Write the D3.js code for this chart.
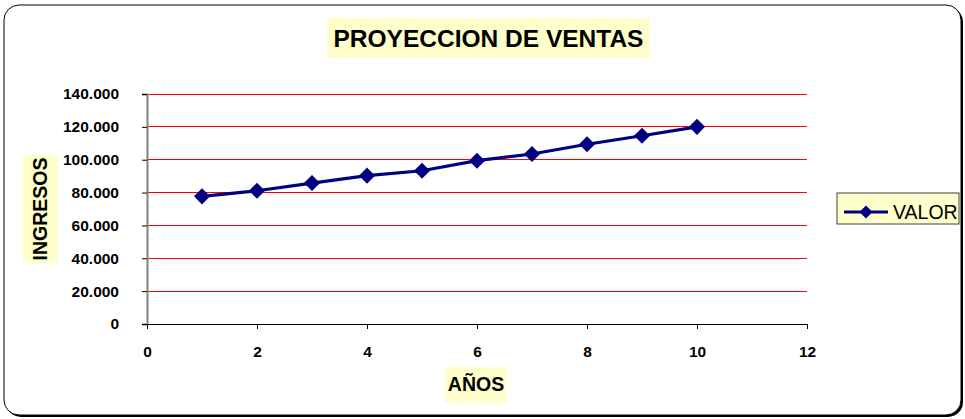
<!DOCTYPE html>
<html><head><meta charset="utf-8">
<script src="https://cdn.jsdelivr.net/npm/d3@7/dist/d3.min.js"></script>
<style>body{margin:0;background:#fff}svg{display:block}text{font-family:"Liberation Sans",Arial,sans-serif}</style>
</head><body><svg id="c" width="965" height="419"></svg>
<script>
const years = [1,2,3,4,5,6,7,8,9,10];
const valores = [77700,81100,85800,90300,93300,99400,103500,109400,114600,120000];
const xTicks = [0,2,4,6,8,10,12];
const yTicks = [0,20000,40000,60000,80000,100000,120000,140000];
const title = "PROYECCION DE VENTAS";
const xTitle = "AÑOS";
const yTitle = "INGRESOS";
const seriesName = "VALOR";

const svg = d3.select("#c");
const navy = "#000080";
// outer frame with shadow
svg.append("rect").attr("x",6).attr("y",7).attr("width",957).attr("height",410).attr("rx",15).attr("fill","#000");
svg.append("rect").attr("x",4).attr("y",5).attr("width",957).attr("height",410).attr("rx",15).attr("fill","#fff").attr("stroke","#000").attr("stroke-width",1);

const x = d3.scaleLinear().domain([0,12]).range([147,807]);
const y = d3.scaleLinear().domain([0,140000]).range([324,94]);

// grid
svg.append("g").selectAll("line").data(yTicks.filter(d=>d>0)).join("line")
  .attr("x1",x(0)).attr("x2",x(12)).attr("y1",d=>y(d)).attr("y2",d=>y(d))
  .attr("stroke","#ff0000").attr("stroke-width",1).attr("shape-rendering","crispEdges");

// y axis
const fmt = d => d===0 ? "0" : d3.format(",")(d).replace(/,/g,".");
const ya = svg.append("g").attr("transform",`translate(${x(0)},0)`)
  .call(d3.axisLeft(y).tickValues(yTicks).tickFormat(fmt).tickSize(5).tickPadding(23));
ya.select(".domain").attr("stroke","#808080").attr("stroke-width",2);
ya.selectAll(".tick line").attr("stroke","#000");
ya.selectAll("text").attr("font-size","15.5px").attr("font-weight","bold").attr("fill","#000").attr("font-family","Liberation Sans, Arial");

// x axis
const xa = svg.append("g").attr("transform",`translate(0,${y(0)})`)
  .call(d3.axisBottom(x).tickValues(xTicks).tickSize(5).tickPadding(17));
xa.select(".domain").attr("stroke","#000").attr("stroke-width",1);
xa.selectAll(".tick line").attr("stroke","#000");
xa.selectAll("text").attr("font-size","15.5px").attr("font-weight","bold").attr("fill","#000").attr("font-family","Liberation Sans, Arial");

// line
const data = years.map((d,i)=>({x:d,v:valores[i]}));
svg.append("path").datum(data)
  .attr("d",d3.line().x(d=>x(d.x)).y(d=>y(d.v)))
  .attr("fill","none").attr("stroke",navy).attr("stroke-width",3.2);
const diamond = d3.symbol().type(d3.symbolDiamond2).size(165);
svg.append("g").selectAll("path").data(data).join("path")
  .attr("transform",d=>`translate(${x(d.x)},${y(d.v)})`)
  .attr("d",diamond).attr("fill",navy);

// title
const tb = {x:327,y:18,w:323,h:40};
svg.append("rect").attr("x",tb.x).attr("y",tb.y).attr("width",tb.w).attr("height",tb.h).attr("fill","#ffffcc");
svg.append("text").attr("x",tb.x+tb.w/2).attr("y",tb.y+tb.h/2+9).attr("text-anchor","middle")
  .attr("font-size","24.5px").attr("font-weight","bold").text(title);

// x title
svg.append("rect").attr("x",445).attr("y",367).attr("width",62).attr("height",36).attr("fill","#ffffcc");
svg.append("text").attr("x",476).attr("y",391).attr("text-anchor","middle")
  .attr("font-size","19.5px").attr("font-weight","bold").text(xTitle);

// y title
svg.append("rect").attr("x",23).attr("y",155).attr("width",35).attr("height",108).attr("fill","#ffffcc");
svg.append("text").attr("transform","translate(47,209) rotate(-90)").attr("text-anchor","middle")
  .attr("font-size","19.5px").attr("font-weight","bold").text(yTitle);

// legend
const lg = svg.append("g");
lg.append("rect").attr("x",837).attr("y",193).attr("width",122).attr("height",31).attr("fill","#ffffcc").attr("stroke","#404040").attr("stroke-width",1);
lg.append("line").attr("x1",844).attr("x2",888).attr("y1",212).attr("y2",212).attr("stroke",navy).attr("stroke-width",3);
lg.append("path").attr("transform","translate(866,212)").attr("d",d3.symbol().type(d3.symbolDiamond2).size(110)).attr("fill",navy);
lg.append("text").attr("x",893).attr("y",219).attr("font-size","19.5px").text(seriesName);
</script></body></html>
